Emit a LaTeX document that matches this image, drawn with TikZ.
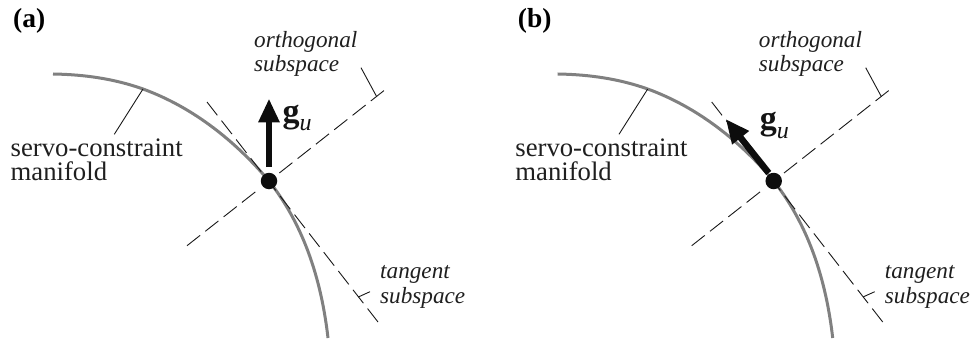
\documentclass[tikz,border=0pt]{standalone}
\usepackage{fontspec}
\setmainfont{Liberation Serif}
\usetikzlibrary{arrows.meta}
\tikzset{
 x=1pt,y=-1pt,
 manifold/.style={draw=black!50,line width=3pt},
 orthline/.style={draw=black!90,line width=0.9pt,dash pattern=on 16.7pt off 6.6pt on 16.7pt off 6.6pt on 16.7pt off 6.6pt on 17pt off 30.6pt on 16.7pt off 6.6pt on 16.7pt off 6.6pt on 16.7pt off 6.6pt on 16.7pt off 6.6pt on 16.7pt off 6.6pt on 16.7pt off 6.6pt},
 tanline/.style={draw=black!90,line width=0.9pt,dash pattern=on 17pt off 6.8pt},
 leader/.style={draw=black!90,line width=0.9pt},
 gvec/.style={draw=black!95,line width=6.5pt,-{Triangle[length=24pt,width=20pt]}},
 dotnode/.style={circle,fill=black!95,inner sep=0pt,minimum size=16.5pt},
 lab/.style={inner sep=0pt,anchor=base west,align=left,text=black!88},
 manlab/.style={lab,font=\fontsize{26.7}{23.5}\selectfont},
 sublab/.style={lab,font=\itshape\fontsize{23.2}{24.5}\selectfont},
 panlab/.style={lab,font=\bfseries\fontsize{27.5}{30}\selectfont,text=black},
 glab/.style={lab,text=black!92},
}
\newcommand{\gulabel}{\fontsize{34}{34}\selectfont\textbf{g}\raisebox{-9pt}{\fontsize{24}{24}\selectfont\textit{u}}}
\begin{document}
\begin{tikzpicture}
\useasboundingbox (0,0) rectangle (971,342);
\foreach \p/\dx/\letter/\tipx/\tipy/\tailx/\taily/\gx/\gy in
 {a/0/(a)/269/98.5/269/167/282.5/122, b/504.7/(b)/221/119/264/173/255/129.5}{
 \begin{scope}[xshift=\dx pt]
  \coordinate (cs\p) at (53,74);
  \coordinate (ce\p) at (328,338);
  \coordinate (lt\p) at (143,89);
  \coordinate (lb\p) at (114.3,134.3);
  \coordinate (o1\p) at (187,245.7);
  \coordinate (o2\p) at (386,89);
  \coordinate (t1\p) at (207,102);
  \coordinate (t2\p) at (378,322);
  \coordinate (ot1\p) at (361,67.7);
  \coordinate (ot2\p) at (376.7,96.7);
  \coordinate (tt1\p) at (370,291.7);
  \coordinate (tt2\p) at (358.3,297);
  \coordinate (gt\p) at (\tailx,\taily);
  \coordinate (gh\p) at (\tipx,\tipy);
  \draw[manifold] (cs\p) .. controls (85,74.5) and (115,79) .. (lt\p)
     .. controls (195,108) and (237,143) .. (269,181)
     .. controls (298,218) and (320,268) .. (ce\p);
  \draw[leader] (lt\p) -- (lb\p);
  \draw[orthline] (o1\p) -- (o2\p);
  \draw[tanline] (t2\p) -- (t1\p);
  \draw[leader] (ot1\p) -- (ot2\p);
  \draw[leader] (tt1\p) -- (tt2\p);
  \draw[gvec] (gt\p) -- (gh\p);
  \node[dotnode] (dot\p) at (269,181) {};
  \node[panlab] (pan\p) at (13,28) {\letter};
  \node[sublab] (orth\p) at (254,72) {orthogonal\\subspace};
  \node[sublab] (tan\p) at (380,303) {tangent\\subspace};
  \node[manlab] (man\p) at (10.5,180) {servo-constraint\\manifold};
  \node[glab] (g\p) at (\gx,\gy) {\gulabel};
 \end{scope}
}
\end{tikzpicture}
\end{document}
